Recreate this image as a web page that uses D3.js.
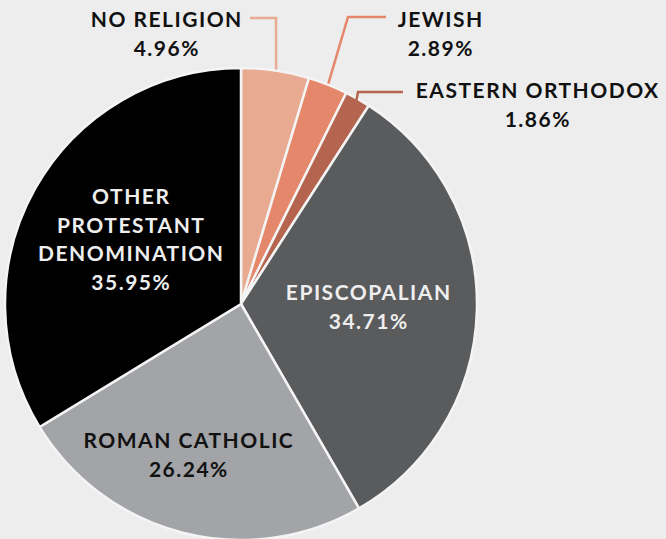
<!DOCTYPE html>
<html><head><meta charset="utf-8">
<script src="https://cdn.jsdelivr.net/npm/d3@7"></script>
<style>
html,body{margin:0;padding:0;background:#ecedec;}
svg{display:block;}
text{font-family:Lato,"Open Sans",sans-serif;font-weight:700;letter-spacing:1.5px;}
</style></head>
<body>
<svg id="chart" width="666" height="539"></svg>
<script>
const categories = ["No Religion","Jewish","Eastern Orthodox","Episcopalian","Roman Catholic","Other Protestant Denomination"];
const labelLines = [["NO RELIGION"],["JEWISH"],["EASTERN ORTHODOX"],["EPISCOPALIAN"],["ROMAN CATHOLIC"],["OTHER","PROTESTANT","DENOMINATION"]];
const values = [4.96, 2.89, 1.86, 34.71, 26.24, 35.95];
const colors = ["#e8aa91","#e4876b","#b5654f","#5a5b5d","#a2a4a7","#000000"];
const textColors = ["#111","#111","#111","#eeeeee","#111","#eeeeee"];

const W = 666, H = 539, cx = 241, cy = 304, R = 236;
const svg = d3.select("#chart");
svg.append("rect").attr("width",W).attr("height",H).attr("fill","#ecedec");

const pie = d3.pie().sort(null).value(d=>d)(values);
const arc = d3.arc().innerRadius(0).outerRadius(R);
const g = svg.append("g").attr("transform",`translate(${cx},${cy})`);
g.selectAll("path").data(pie).join("path")
  .attr("d",arc)
  .attr("fill",(d,i)=>colors[i])
  .attr("stroke","#f4f4f4").attr("stroke-width",2.5).attr("stroke-linejoin","miter");

const fs = 21, lh = 28.5;
function fmt(v){return v.toFixed(2)+"%";}

// inside labels: radius and angle offset per slice
const inside = {3:{r:127,da:0}, 4:{r:160,da:5}, 5:{r:128,da:1}};
Object.keys(inside).forEach(k=>{
  const i=+k, d=pie[i];
  const a=(d.startAngle+d.endAngle)/2 + inside[i].da*Math.PI/180;
  const x=Math.sin(a)*inside[i].r, y=-Math.cos(a)*inside[i].r;
  const lines=labelLines[i].concat([fmt(values[i])]);
  const t=g.append("text").attr("text-anchor","middle").attr("fill",textColors[i]).attr("font-size",fs);
  const y0 = y - (lines.length-1)*lh/2 + fs*0.36;
  lines.forEach((s,j)=>t.append("tspan").attr("x",x+0.75).attr("y",y0+j*lh).text(s));
});

// outside labels with leader lines (annotation anchors in page coordinates)
const outside = [
  {i:0, tx:166, ty:27, path:[[250,18],[276,18]]},
  {i:1, tx:440, ty:27, path:[[386,17],[348,17]]},
  {i:2, tx:537, ty:98, path:[[403,92],[358,92]]}
];
outside.forEach(o=>{
  const d=pie[o.i];
  let a;
  if(o.i===0) a=Math.asin((276-cx)/R);
  else a=(d.startAngle+d.endAngle)/2;
  let pts;
  if(o.i===2){ pts=o.path.concat([[cx+Math.sin(a)*(R-3), cy-Math.cos(a)*(R-3)]]); }
  else pts=o.path.concat([[cx+Math.sin(a)*(R+1), cy-Math.cos(a)*(R+1)]]);
  svg.append("path").attr("d",d3.line()(pts)).attr("fill","none")
    .attr("stroke",colors[o.i]).attr("stroke-width",2.5);
  const t=svg.append("text").attr("text-anchor","middle").attr("fill","#111").attr("font-size",fs);
  const lines=labelLines[o.i].concat([fmt(values[o.i])]);
  lines.forEach((s,j)=>{
    t.append("tspan").attr("x",o.tx+0.75).attr("y",o.ty+j*lh).text(s);
  });
});
</script>
</body></html>
